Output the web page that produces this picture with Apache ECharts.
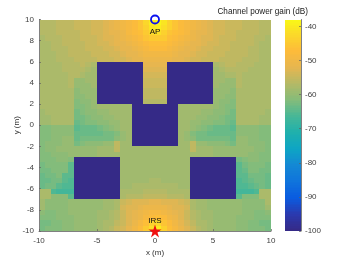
<!DOCTYPE html>
<html><head><meta charset="utf-8">
<script src="https://cdn.jsdelivr.net/npm/echarts@6/dist/echarts.min.js"></script>
<style>html,body{margin:0;padding:0;background:#fff}#c{width:346px;height:260px}</style>
</head><body><div id="c"></div>
<script>
const B = -100;
// channel gain in dB per 0.5 m cell, rows from y=10 (top) to y=-10, columns from x=-10
const gainRows = [
[-57,-57,-57,-56,-56,-56,-55,-55,-55,-54,-54,-53,-52,-51,-50,-49,-48,-46,-43,-40,-39,-41,-44,-46,-48,-49,-50,-51,-52,-53,-54,-54,-55,-55,-55,-56,-56,-56,-57,-57],
[-57,-57,-57,-56,-56,-56,-55,-55,-55,-54,-54,-53,-52,-51,-50,-49,-48,-46,-44,-41,-40,-42,-44,-46,-48,-49,-50,-51,-52,-53,-54,-54,-55,-55,-55,-56,-56,-56,-57,-57],
[-57,-57,-57,-56,-56,-56,-56,-55,-55,-54,-54,-53,-52,-52,-51,-49,-48,-47,-45,-43,-42,-44,-46,-47,-48,-49,-51,-52,-52,-53,-54,-54,-55,-55,-56,-56,-56,-56,-57,-57],
[-58,-57,-57,-57,-56,-56,-56,-55,-55,-55,-54,-53,-53,-52,-51,-50,-49,-48,-46,-45,-45,-45,-47,-48,-49,-50,-51,-52,-53,-53,-54,-55,-55,-55,-56,-56,-56,-57,-57,-58],
[-58,-58,-57,-57,-56,-56,-56,-56,-55,-55,-54,-54,-53,-52,-52,-51,-50,-49,-48,-47,-47,-47,-48,-49,-50,-51,-52,-52,-53,-54,-54,-55,-55,-56,-56,-56,-56,-57,-58,-58],
[-58,-58,-57,-57,-57,-56,-56,-56,-55,-55,-55,-54,-54,-53,-52,-52,-51,-50,-49,-48,-48,-48,-49,-50,-51,-52,-52,-53,-54,-54,-55,-55,-55,-56,-56,-56,-57,-57,-58,-58],
[-58,-58,-58,-57,-57,-56,-56,-56,-56,-55,-55,-55,-54,-54,-53,-52,-52,-51,-50,-50,-50,-50,-50,-51,-52,-52,-53,-54,-54,-55,-55,-55,-56,-56,-56,-56,-57,-57,-58,-58],
[-58,-58,-58,-57,-57,-57,-56,-56,-56,-56,-55,-55,-55,-54,-54,-53,-52,-52,-51,-51,-51,-51,-51,-52,-52,-53,-54,-54,-55,-55,-55,-56,-56,-56,-56,-57,-57,-57,-58,-58],
[-58,-58,-58,-58,-57,-57,-57,-56,-57,-58,B,B,B,B,B,B,B,B,-52,-52,-52,-52,B,B,B,B,B,B,B,B,-58,-57,-56,-56,-57,-57,-57,-58,-58,-58],
[-58,-58,-58,-58,-57,-57,-57,-57,-58,-59,B,B,B,B,B,B,B,B,-53,-53,-53,-53,B,B,B,B,B,B,B,B,-59,-58,-57,-57,-57,-57,-58,-58,-58,-58],
[-58,-58,-58,-58,-58,-57,-57,-58,-59,-59,B,B,B,B,B,B,B,B,-54,-54,-54,-54,B,B,B,B,B,B,B,B,-59,-59,-58,-58,-57,-58,-58,-58,-58,-58],
[-58,-58,-58,-58,-58,-57,-60,-60,-59,-59,B,B,B,B,B,B,B,B,-55,-55,-55,-55,B,B,B,B,B,B,B,B,-59,-59,-60,-60,-57,-58,-58,-58,-58,-58],
[-58,-58,-58,-58,-58,-57,-60,-60,-60,-59,B,B,B,B,B,B,B,B,-55,-55,-55,-55,B,B,B,B,B,B,B,B,-59,-60,-60,-60,-57,-58,-58,-58,-58,-58],
[-58,-58,-58,-58,-58,-58,-61,-60,-60,-60,B,B,B,B,B,B,B,B,-56,-56,-56,-56,B,B,B,B,B,B,B,B,-60,-60,-60,-61,-58,-58,-58,-58,-58,-58],
[-58,-58,-58,-58,-58,-58,-61,-61,-60,-60,B,B,B,B,B,B,B,B,-56,-56,-56,-56,B,B,B,B,B,B,B,B,-60,-60,-61,-61,-58,-58,-58,-58,-58,-58],
[-58,-58,-58,-58,-58,-58,-62,-61,-61,-60,B,B,B,B,B,B,B,B,-57,-57,-57,-57,B,B,B,B,B,B,B,B,-60,-61,-61,-62,-58,-58,-58,-58,-58,-58],
[-58,-58,-58,-58,-58,-58,-62,-62,-61,-60,-59,-59,-59,-59,-59,-59,B,B,B,B,B,B,B,B,-59,-59,-59,-59,-59,-59,-60,-61,-62,-62,-58,-58,-58,-58,-58,-58],
[-59,-58,-58,-58,-58,-58,-63,-62,-61,-61,-60,-60,-59,-59,-59,-59,B,B,B,B,B,B,B,B,-59,-59,-59,-59,-60,-60,-61,-61,-62,-63,-58,-58,-58,-58,-58,-59],
[-59,-59,-58,-58,-58,-58,-63,-63,-62,-61,-61,-60,-60,-59,-59,-59,B,B,B,B,B,B,B,B,-59,-59,-59,-60,-60,-61,-61,-62,-63,-63,-58,-58,-58,-58,-59,-59],
[-59,-59,-58,-58,-58,-58,-64,-63,-62,-62,-61,-61,-60,-60,-59,-59,B,B,B,B,B,B,B,B,-59,-59,-60,-60,-61,-61,-62,-62,-63,-64,-58,-58,-58,-58,-59,-59],
[-62,-62,-61,-61,-61,-61,-65,-64,-64,-64,-63,-62,-61,-60,-59,-59,B,B,B,B,B,B,B,B,-59,-59,-60,-61,-62,-63,-64,-64,-64,-65,-61,-61,-61,-61,-62,-62],
[-62,-62,-61,-61,-61,-61,-64,-64,-64,-64,-64,-63,-63,-62,-60,-59,B,B,B,B,B,B,B,B,-59,-60,-62,-63,-63,-64,-64,-64,-64,-64,-61,-61,-61,-61,-62,-62],
[-62,-62,-61,-61,-60,-60,-64,-63,-63,-63,-63,-63,-63,-61,-60,-59,B,B,B,B,B,B,B,B,-59,-60,-61,-63,-63,-63,-63,-63,-63,-64,-60,-60,-61,-61,-62,-62],
[-62,-61,-61,-61,-60,-60,-63,-62,-61,-61,-61,-60,-60,-56,-59,-59,B,B,B,B,B,B,B,B,-59,-59,-56,-60,-60,-61,-61,-61,-62,-63,-60,-60,-61,-61,-61,-62],
[-62,-61,-61,-60,-60,-60,-60,-60,-60,-60,-59,-59,-59,-56,-59,-59,-59,-59,-59,-59,-59,-59,-59,-59,-59,-59,-56,-59,-59,-59,-60,-60,-60,-60,-60,-60,-60,-61,-61,-62],
[-62,-62,-61,-61,-61,-60,-60,-60,-60,-60,-59,-59,-59,-59,-59,-59,-59,-59,-59,-59,-59,-59,-59,-59,-59,-59,-59,-59,-59,-59,-60,-60,-60,-60,-60,-60,-61,-61,-62,-62],
[-62,-62,-62,-61,-61,-62,B,B,B,B,B,B,B,B,-59,-59,-59,-59,-59,-59,-59,-59,-59,-59,-59,-59,B,B,B,B,B,B,B,B,-63,-62,-61,-61,-62,-62],
[-63,-62,-62,-62,-62,-65,B,B,B,B,B,B,B,B,-59,-59,-59,-59,-59,-59,-59,-59,-59,-59,-59,-59,B,B,B,B,B,B,B,B,-65,-63,-62,-62,-62,-63],
[-63,-63,-62,-62,-62,-65,B,B,B,B,B,B,B,B,-59,-59,-59,-59,-59,-59,-59,-59,-59,-59,-59,-59,B,B,B,B,B,B,B,B,-65,-64,-62,-62,-63,-63],
[-64,-63,-63,-62,-65,-65,B,B,B,B,B,B,B,B,-59,-59,-59,-59,-59,-59,-59,-59,-59,-59,-59,-59,B,B,B,B,B,B,B,B,-65,-65,-63,-63,-63,-64],
[-64,-64,-63,-63,-65,-66,B,B,B,B,B,B,B,B,-59,-59,-59,-59,-59,-58,-58,-59,-59,-59,-59,-59,B,B,B,B,B,B,B,B,-66,-65,-64,-63,-63,-64],
[-64,-63,-63,-65,-66,-66,B,B,B,B,B,B,B,B,-59,-59,-58,-58,-58,-58,-58,-58,-58,-58,-59,-59,B,B,B,B,B,B,B,B,-66,-66,-65,-64,-63,-64],
[-58,-58,-66,-67,-67,-67,B,B,B,B,B,B,B,B,-58,-58,-58,-58,-57,-57,-57,-57,-58,-58,-58,-58,B,B,B,B,B,B,B,B,-67,-67,-67,-66,-58,-58],
[-58,-58,-61,-61,-61,-65,B,B,B,B,B,B,B,B,-58,-57,-57,-57,-56,-56,-56,-56,-57,-57,-57,-58,B,B,B,B,B,B,B,B,-65,-62,-62,-62,-58,-58],
[-59,-61,-61,-61,-61,-60,-60,-60,-60,-60,-60,-59,-59,-58,-55,-54,-53,-53,-53,-52,-52,-53,-53,-53,-54,-55,-58,-59,-59,-60,-60,-60,-60,-60,-60,-61,-61,-61,-61,-58],
[-59,-61,-61,-61,-61,-60,-60,-60,-60,-60,-60,-59,-59,-58,-54,-53,-53,-52,-51,-51,-51,-51,-52,-53,-53,-54,-58,-59,-59,-60,-60,-60,-60,-60,-60,-61,-61,-61,-61,-59],
[-61,-62,-62,-61,-61,-60,-60,-60,-60,-60,-59,-59,-58,-57,-55,-53,-52,-51,-50,-49,-49,-50,-51,-52,-53,-55,-57,-58,-59,-59,-60,-60,-60,-60,-60,-61,-61,-62,-62,-61],
[-62,-62,-62,-61,-61,-61,-60,-60,-60,-60,-59,-59,-58,-57,-55,-53,-52,-51,-49,-48,-47,-48,-50,-51,-53,-55,-57,-58,-59,-59,-60,-60,-60,-60,-61,-61,-61,-62,-62,-62],
[-63,-63,-62,-62,-61,-61,-60,-60,-60,-60,-59,-58,-58,-56,-55,-53,-51,-49,-47,-44,-43,-46,-48,-50,-52,-54,-56,-58,-58,-59,-60,-60,-60,-60,-61,-61,-62,-62,-63,-63],
[-63,-62,-62,-62,-61,-61,-60,-60,-60,-60,-59,-58,-57,-55,-54,-52,-50,-48,-45,-42,-40,-44,-47,-49,-51,-53,-55,-57,-58,-59,-60,-60,-60,-60,-61,-61,-62,-62,-62,-63]
];
const apPoint = [[0, 10]];
const irsPoint = [[0, -10]];
const minGain = -100, maxGain = -38;
const colorStops = ['#352a87','#2a3ab0','#0a5ce0','#0f74dc','#1488d4','#0ea5c4','#1fb0ac','#47b797','#85bc7a','#b4b966','#e6b650','#fdbb3a','#fbd82a','#f9fb15'];

const cells = [];
gainRows.forEach((row, r) => row.forEach((v, c) => cells.push([-10 + c * 0.5, 10 - r * 0.5, v])));
const barLevels = [];
for (let v = minGain; v < maxGain; v += 0.5) barLevels.push([0, v, v]);

function rectItem(wData, hData) {
  return function (params, api) {
    const p = api.coord([api.value(0), api.value(1)]);
    const q = api.coord([api.value(0) + wData, api.value(1) + hData]);
    const x0 = Math.round(p[0]), x1 = Math.round(q[0]);
    const y0 = Math.round(Math.min(p[1], q[1])), y1 = Math.round(Math.max(p[1], q[1]));
    return { type: 'rect',
      shape: { x: x0, y: y0, width: x1 - x0, height: y1 - y0 },
      style: { fill: api.visual('color'), stroke: null } };
  };
}
const tickLabel = { color: '#404040', fontSize: 8, fontFamily: 'Liberation Sans', margin: 5 };
const axisLine = { show: true, onZero: false, lineStyle: { color: '#808080', width: 1 } };
const axisTick = { show: true, inside: true, length: 2, lineStyle: { color: '#606060', width: 0.7 } };
const nameStyle = { color: '#303030', fontSize: 8, fontFamily: 'Liberation Sans' };

const chart = echarts.init(document.getElementById('c'), null, { renderer: 'canvas' });
chart.setOption({
  animation: false,
  backgroundColor: '#fff',
  title: { text: 'Channel power gain (dB)', right: 33, top: 3,
    textStyle: { fontSize: 8.2, fontWeight: 'normal', color: '#202020', fontFamily: 'Liberation Sans' } },
  grid: [
    { left: 39, top: 19.5, width: 232, height: 211.5, outerBoundsMode: 'none', containLabel: false },
    { left: 285, top: 19.5, width: 16, height: 211.5, outerBoundsMode: 'none', containLabel: false }
  ],
  visualMap: { show: false, min: minGain, max: maxGain, dimension: 2, seriesIndex: [0, 1], inRange: { color: colorStops } },
  xAxis: [
    { type: 'value', gridIndex: 0, min: -10, max: 10, interval: 5, z: 3, splitLine: { show: false }, axisLine, axisTick,
      axisLabel: Object.assign({}, tickLabel, { margin: 6 }),
      name: 'x (m)', nameLocation: 'middle', nameGap: 18, nameMoveOverlap: false, nameTextStyle: nameStyle },
    { type: 'value', gridIndex: 1, min: 0, max: 1, show: false }
  ],
  yAxis: [
    { type: 'value', gridIndex: 0, min: -10, max: 10, interval: 2, z: 3, splitLine: { show: false }, axisLine, axisTick,
      axisLabel: tickLabel, name: 'y (m)', nameLocation: 'middle', nameGap: 18, nameMoveOverlap: false, nameTextStyle: nameStyle },
    { type: 'value', gridIndex: 1, min: minGain, max: maxGain, interval: 10, position: 'right', z: 3, splitLine: { show: false },
      axisLine, axisTick,
      axisLabel: Object.assign({}, tickLabel, { showMaxLabel: false, margin: 4 }) }
  ],
  series: [
    { type: 'custom', xAxisIndex: 0, yAxisIndex: 0, data: cells, renderItem: rectItem(0.5, -0.5), encode: { x: 0, y: 1 }, z: 1, clip: true, silent: true },
    { type: 'custom', xAxisIndex: 1, yAxisIndex: 1, data: barLevels, renderItem: rectItem(1, 0.5), encode: { x: 0, y: 1 }, z: 1, clip: true, silent: true },
    { type: 'scatter', xAxisIndex: 0, yAxisIndex: 0, data: apPoint, symbol: 'circle', symbolSize: 8, clip: false, z: 5,
      itemStyle: { color: 'rgba(0,0,0,0)', borderColor: '#0a10f0', borderWidth: 1.8, opacity: 1 },
      label: { show: true, formatter: 'AP', position: 'bottom', distance: 3, color: '#111', fontSize: 8, fontFamily: 'Liberation Sans' } },
    { type: 'scatter', xAxisIndex: 0, yAxisIndex: 0, data: irsPoint, symbol: 'path://M50 0L62 36L100 36L69 58L81 95L50 72L19 95L31 58L0 36L38 36Z', symbolSize: 13, clip: false, z: 5,
      itemStyle: { color: '#f01010', opacity: 1 },
      label: { show: true, formatter: 'IRS', position: 'top', distance: 0, color: '#111', fontSize: 8, fontFamily: 'Liberation Sans' } }
  ]
});
</script></body></html>
